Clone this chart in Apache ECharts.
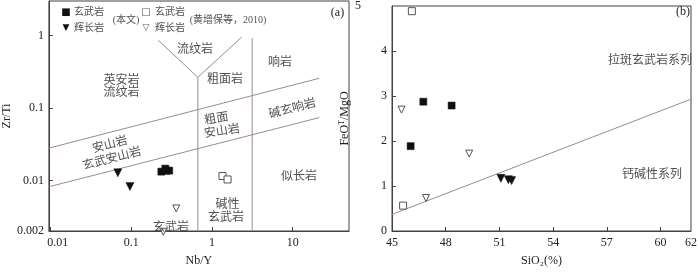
<!DOCTYPE html>
<html>
<head>
<meta charset="utf-8">
<script src="https://cdn.jsdelivr.net/npm/echarts@6/dist/echarts.min.js"></script>
<style>
html,body{margin:0;padding:0;background:#fff;}
#c{width:700px;height:272px;}
</style>
</head>
<body>
<div id="c"></div>
<script>
// ---------- tick labels ----------
const NbY_ticks = [0.01, 0.1, 1, 10];
const NbY_labels = ['0.01', '0.1', '1', '10'];
const ZrTi_ticks = [0.002, 0.01, 0.1, 1];
const ZrTi_labels = ['0.002', '0.01', '0.1', '1'];
const SiO2_ticks = [45, 48, 51, 54, 57, 60, 61.7];
const SiO2_labels = ['45', '48', '51', '54', '57', '60', '62'];
const FeOMgO_ticks = [0, 1, 2, 3, 4, 5];
const FeOMgO_labels = ['0', '1', '2', '3', '4', '5'];

// ---------- panel (a): Nb/Y vs Zr/Ti ----------
const basaltThis_a = [[0.2355, 0.0132], [0.2735, 0.0136], [0.2636, 0.01455], [0.295, 0.01365]];
const gabbroThis_a = [[0.068, 0.0127], [0.096, 0.0082]];
const basaltHuang_a = [[1.35, 0.0115], [1.56, 0.0103]];
const gabbroHuang_a = [[0.36, 0.0041], [0.249, 0.00195]];

const boundaryUpper_a = [[0.0095, 0.0279], [21.4, 0.257]];
const boundaryLower_a = [[0.0095, 0.00816], [21.4, 0.0736]];
const boundaryV1_a = [[0.668, 0.002], [0.668, 0.265]];
const boundaryY_a = [[0.216, 0.857], [0.668, 0.265], [2.33, 0.95]];
const boundaryV2_a = [[3.15, 0.002], [3.15, 0.92]];

// ---------- panel (b): SiO2 vs FeOT/MgO ----------
const basaltThis_b = [[46.75, 2.873], [48.33, 2.788], [46.04, 1.886]];
const gabbroThis_b = [[51.08, 1.17], [51.5, 1.14], [51.68, 1.12]];
const basaltHuang_b = [[46.11, 4.885], [45.62, 0.564]];
const gabbroHuang_b = [[45.53, 2.697], [49.31, 1.72], [46.9, 0.733]];

const boundary_b = [[45, 0.37], [61.7, 2.93]];

// ---------- styles ----------
const FRAME = '#4a3f3d';
const BOUND = '#9a8c89';
const TXT = '#222';
const LAB = '#505050';
const SERIF = "'Liberation Serif','Times New Roman',serif";
const CJK = "'Liberation Serif','Noto Sans CJK SC',sans-serif";

function fmt(ticks, labels) {
  return function (v) {
    for (let i = 0; i < ticks.length; i++) {
      if (Math.abs(v - ticks[i]) <= Math.abs(ticks[i]) * 1e-6 + 1e-9) return labels[i];
    }
    return '';
  };
}

function axisBase(extra) {
  return Object.assign({
    axisLine: { show: true, onZero: false, lineStyle: { color: FRAME, width: 1 } },
    splitLine: { show: false },
    minorTick: { show: false },
    minorSplitLine: { show: false },
    nameTextStyle: { color: TXT, fontFamily: SERIF, fontSize: 12 }
  }, extra);
}

const chart = echarts.init(document.getElementById('c'), null, { renderer: 'canvas' });

function scatter(name, data, xi, sym, filled, size, rot) {
  return {
    name: name, type: 'scatter', xAxisIndex: xi, yAxisIndex: xi, data: data,
    symbol: sym, symbolSize: size, symbolRotate: rot || 0, clip: false,
    itemStyle: filled ? { color: '#111', borderColor: '#111', borderWidth: 0.5, opacity: 1 }
                      : { color: '#fff', borderColor: '#555', borderWidth: 1, opacity: 1 },
    z: 5
  };
}
function bline(data, xi) {
  return {
    type: 'line', xAxisIndex: xi, yAxisIndex: xi, data: data, symbol: 'none',
    lineStyle: { color: BOUND, width: 1 }, silent: true, z: 2, clip: true
  };
}

function txt(x, y, s, size, rot, color, font) {
  return {
    type: 'text', x: x, y: y, rotation: rot || 0,
    style: {
      text: s, fill: color || LAB, font: (size || 12) + 'px ' + (font || CJK),
      align: 'center', verticalAlign: 'middle'
    },
    z: 10
  };
}
const R = 14.6 * Math.PI / 180;

const option = {
  animation: false,
  backgroundColor: '#fff',
  grid: [
    { left: 44, top: 1, width: 305, height: 237, show: true, borderColor: FRAME, borderWidth: 1, containLabel: false },
    { left: 392, top: 1, width: 304, height: 236, show: true, borderColor: FRAME, borderWidth: 1, containLabel: false }
  ],
  xAxis: [
    axisBase({
      gridIndex: 0, type: 'log', logBase: 10, min: 0.0095, max: 50,
      name: 'Nb/Y', nameLocation: 'middle', nameGap: 24,
      axisTick: { show: true, inside: true, length: 4, lineStyle: { color: FRAME }, customValues: NbY_ticks },
      axisLabel: {
        customValues: NbY_ticks, margin: 6, color: TXT, fontFamily: SERIF, fontSize: 12,
        formatter: function (v) { const s = fmt(NbY_ticks, NbY_labels)(v); return s === '0.01' ? '{p|0.01}' : s; },
        rich: { p: { padding: [0, 0, 0, 14], fontFamily: SERIF, fontSize: 12, color: TXT } }
      }
    }),
    axisBase({
      gridIndex: 1, type: 'value', min: 45, max: 61.7,
      name: 'SiO₂(%)', nameLocation: 'middle', nameGap: 24,
      axisTick: { show: true, inside: true, length: 4, lineStyle: { color: FRAME }, customValues: [48, 51, 54, 57, 60] },
      axisLabel: { customValues: SiO2_ticks, margin: 6, color: TXT, fontFamily: SERIF, fontSize: 12, formatter: fmt(SiO2_ticks, SiO2_labels) }
    })
  ],
  yAxis: [
    axisBase({
      gridIndex: 0, type: 'log', logBase: 10, min: 0.002, max: 3,
      name: 'Zr/Ti', nameLocation: 'middle', nameGap: 33,
      axisTick: { show: true, inside: true, length: 4, lineStyle: { color: FRAME }, customValues: [0.01, 0.1, 1] },
      axisLabel: { customValues: ZrTi_ticks, margin: 5, color: TXT, fontFamily: SERIF, fontSize: 12, formatter: fmt(ZrTi_ticks, ZrTi_labels) }
    }),
    axisBase({
      gridIndex: 1, type: 'value', min: 0, max: 5,
      name: 'FeO{sup|T}/MgO', nameLocation: 'middle', nameGap: 18,
      nameTextStyle: { color: TXT, fontFamily: SERIF, fontSize: 12, rich: { sup: { fontSize: 8, fontFamily: SERIF, color: TXT, padding: [0, 0, 7, 0] } } },
      axisTick: { show: true, inside: true, length: 4, lineStyle: { color: FRAME }, customValues: [1, 2, 3, 4] },
      axisLabel: {
        customValues: FeOMgO_ticks, margin: 5, color: TXT, fontFamily: SERIF, fontSize: 12,
        formatter: function (v) { const s = fmt(FeOMgO_ticks, FeOMgO_labels)(v); return s === '5' ? '{q|5}' : s; },
        rich: { q: { padding: [0, 26, 0, 0], fontFamily: SERIF, fontSize: 12, color: TXT } }
      }
    })
  ],
  series: [
    bline(boundaryUpper_a, 0), bline(boundaryLower_a, 0), bline(boundaryV1_a, 0),
    bline(boundaryY_a, 0), bline(boundaryV2_a, 0),
    bline(boundary_b, 1),
    scatter('玄武岩(本文)', basaltThis_a, 0, 'rect', true, 7),
    scatter('辉长岩(本文)', gabbroThis_a, 0, 'triangle', true, 8, 180),
    scatter('玄武岩(黄增保等，2010)', basaltHuang_a, 0, 'rect', false, 7),
    scatter('辉长岩(黄增保等，2010)', gabbroHuang_a, 0, 'triangle', false, 7, 180),
    scatter('玄武岩(本文)', basaltThis_b, 1, 'rect', true, 7),
    scatter('辉长岩(本文)', gabbroThis_b, 1, 'triangle', true, 8, 180),
    scatter('玄武岩(黄增保等，2010)', basaltHuang_b, 1, 'rect', false, 7),
    scatter('辉长岩(黄增保等，2010)', gabbroHuang_b, 1, 'triangle', false, 7, 180)
  ],
  graphic: [
    // legend (a)
    txt(66, 12.5, '■', 10, 0, '#111', "'DejaVu Sans'"),
    txt(89, 12.5, '玄武岩', 10),
    txt(66, 28, '▼', 9, 0, '#111', "'DejaVu Sans'"),
    txt(89, 28, '辉长岩', 10),
    txt(126, 20, '(本文)', 10),
    txt(146, 12, '□', 10, 0, '#555', "'DejaVu Sans'"),
    txt(170, 12, '玄武岩', 10),
    txt(146, 28, '▽', 9, 0, '#555', "'DejaVu Sans'"),
    txt(170, 28, '辉长岩', 10),
    txt(228, 20, '(黄增保等，2010)', 10),
    // field names (a)
    txt(337.5, 13.3, '(a)', 12, 0, TXT, SERIF),
    txt(121.5, 80.8, '英安岩', 12),
    txt(121.5, 93, '流纹岩', 12),
    txt(195, 50, '流纹岩', 12),
    txt(225, 80, '粗面岩', 12),
    txt(280, 62.5, '响岩', 12),
    txt(292.5, 109, '碱玄响岩', 12, R),
    txt(216.5, 119, '粗面', 12, R * 0.6),
    txt(222, 131.5, '安山岩', 12, R * 0.6),
    txt(110, 145, '安山岩', 12, R),
    txt(112, 159, '玄武安山岩', 12, R),
    txt(299, 176.7, '似长岩', 12),
    txt(227.5, 205, '碱性', 12),
    txt(226, 218, '玄武岩', 12),
    txt(171, 227.5, '玄武岩', 12),
    // field names (b)
    txt(683, 12, '(b)', 12, 0, TXT, SERIF),
    txt(650, 61, '拉斑玄武岩系列', 12),
    txt(652, 175, '钙碱性系列', 12)
  ]
};
chart.setOption(option);
</script>
</body>
</html>
